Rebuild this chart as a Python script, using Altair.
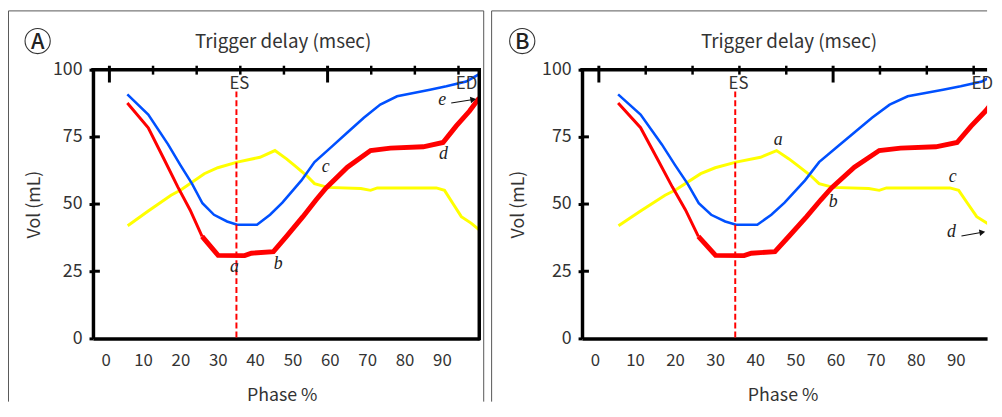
import altair as alt
import pandas as pd

FONT = "Noto Sans CJK KR"
SERIF = "Liberation Serif"
TXT = "#333333"

# ---- data ----
blue_phase = [5.8, 11.4, 16.7, 20.0, 23.1, 25.9, 29.0, 32.5, 35.2, 40.5, 44.0, 47.3,
              52.4, 55.9, 60.3, 64.7, 69.1, 73.5, 78.0, 82.4, 86.8, 91.2, 96.5, 100.3]
blue_vol = [90.8, 83.3, 72.2, 64.5, 57.6, 50.3, 46.0, 43.5, 42.3, 42.3, 46.0, 50.5,
            58.8, 65.6, 71.1, 76.6, 82.1, 87.0, 90.1, 91.3, 92.5, 93.8, 95.6, 98.6]

red_phase = [5.8, 11.4, 15.8, 19.3, 22.6, 25.8, 30.1, 37.2, 39.0, 44.9, 48.4, 52.8,
             56.3, 59.0, 64.7, 70.9, 76.2, 85.0, 90.3, 93.8, 97.4, 100.0]
red_vol = [87.6, 78.4, 66.2, 56.4, 47.8, 38.0, 30.9, 30.8, 31.7, 32.3, 38.0, 45.3,
           51.5, 56.0, 63.7, 69.9, 70.8, 71.3, 72.9, 79.0, 84.6, 89.5]
red_thin_until = 25.8

yellow_phase = [5.9, 11.4, 17.5, 20.2, 26.4, 30.0, 35.2, 41.3, 45.3, 48.4, 50.6, 53.7,
                55.9, 59.4, 68.3, 70.9, 72.7, 88.5, 90.7, 92.9, 95.2, 97.8, 100.0]
yellow_vol = [41.9, 47.4, 53.3, 55.3, 61.3, 63.5, 65.6, 67.4, 69.9, 66.8, 64.3, 60.7,
              57.6, 56.2, 55.8, 55.1, 56.0, 56.0, 55.1, 50.3, 45.3, 42.9, 40.4]

x_ticks = [0, 10, 20, 30, 40, 50, 60, 70, 80, 90]
y_ticks = [0, 25, 50, 75, 100]
y_inner_ticks = [25, 50, 75]

delay_ticks = [0, 100, 200, 300, 400, 500, 600, 700, 800]
delay_long = [0, 500]
delay_phase0 = 1.0       # phase at trigger delay 0
delay_phase_per_ms = 0.1168

es_phase = [35]
marker_labels = ["ES", "ED"]
marker_phase = [35.8, 96.6]

ann_A_letters = ["a", "b", "c", "d", "e"]
ann_A_phase = [34.5, 46.2, 58.9, 90.4, 90.1]
ann_A_vol = [24.6, 25.7, 61.8, 66.9, 86.8]
arrow_A = dict(tp=[92.5], tv=[87.6], hp=[98.4], hv=[88.9])

ann_B_letters = ["a", "b", "c", "d"]
ann_B_phase = [45.7, 59.4, 89.2, 88.9]
ann_B_vol = [72.1, 48.9, 58.1, 37.9]
arrow_B = dict(tp=[91.4], tv=[38.1], hp=[96.6], hv=[39.5])

H = 272


def panel(letter, W, xdom, letters, lph, lvol, arrow, right_border, fx_left,
          title_x, phase_title_x, vol_title_x, circle_x, frame_right):
    xs = alt.Scale(domain=xdom, nice=False, zero=False)
    ys = alt.Scale(domain=[0, 100], nice=False, zero=False)

    def X(f, axis=alt.Undefined):
        return alt.X(f, type="quantitative", scale=xs, axis=axis)

    def Y(f, axis=alt.Undefined):
        return alt.Y(f, type="quantitative", scale=ys, axis=axis)

    xaxis = alt.Axis(values=x_ticks, grid=False, ticks=False, tickSize=0,
                     domainColor="black", domainWidth=3.5, labelFont=FONT,
                     labelFontSize=17, labelColor=TXT, labelPadding=14,
                     labelFlush=False, labelOverlap=False,
                     title="Phase %", titleFont=FONT, titleFontSize=18,
                     titleFontWeight="normal", titleColor=TXT,
                     titleX=phase_title_x, titleY=58, titleAlign="center",
                     titleBaseline="middle")
    yaxis = alt.Axis(values=y_ticks, grid=False, ticks=True, tickSize=4,
                     tickWidth=3, tickColor="black", domainColor="black",
                     domainWidth=3.5, labelFont=FONT, labelFontSize=18,
                     labelColor=TXT, labelPadding=7, labelFlush=False,
                     labelOverlap=False, title="Vol (mL)", titleFont=FONT,
                     titleFontSize=18, titleFontWeight="normal", titleColor=TXT,
                     titleX=vol_title_x, titleY=H / 2, titleAngle=270,
                     titleAlign="center", titleBaseline="middle")

    blue = pd.DataFrame({"phase": blue_phase, "vol": blue_vol})
    red = pd.DataFrame({"phase": red_phase, "vol": red_vol})
    yellow = pd.DataFrame({"phase": yellow_phase, "vol": yellow_vol})

    l_yellow = alt.Chart(yellow).mark_line(color="#ffff00", strokeWidth=3, clip=True).encode(
        x=X("phase", xaxis), y=Y("vol", yaxis), order="phase:Q")
    l_blue = alt.Chart(blue).mark_line(color="#0050ff", strokeWidth=2.6, clip=True).encode(
        x=X("phase"), y=Y("vol"), order="phase:Q")
    l_red_thin = alt.Chart(red[red.phase <= red_thin_until]).mark_line(
        color="#ff0000", strokeWidth=3, clip=True).encode(x=X("phase"), y=Y("vol"), order="phase:Q")
    l_red_thick = alt.Chart(red[red.phase >= red_thin_until]).mark_line(
        color="#ff0000", strokeWidth=5, clip=True).encode(x=X("phase"), y=Y("vol"), order="phase:Q")

    es = alt.Chart(pd.DataFrame({"phase": es_phase})).mark_rule(
        color="#ff0000", strokeWidth=2, strokeDash=[6, 3]).encode(
        x=X("phase"), y=alt.value(22), y2=alt.value(H + 2))

    marks = alt.Chart(pd.DataFrame({"phase": marker_phase, "t": marker_labels})).mark_text(
        font=FONT, fontSize=17, color=TXT, baseline="middle", align="center").encode(
        x=X("phase"), y=alt.value(15), text="t:N")

    # top border and optional right border
    top = alt.Chart(pd.DataFrame({"k": [0]})).mark_rule(color="black", strokeWidth=3.5).encode(
        x=alt.value(-1.75), x2=alt.value(W + 1.75 if right_border else W), y=alt.value(0))
    layers = [l_yellow, l_blue, l_red_thin, l_red_thick, es, marks, top]
    if right_border:
        layers.append(alt.Chart(pd.DataFrame({"k": [0]})).mark_rule(
            color="black", strokeWidth=3.5).encode(
            x=alt.value(W), y=alt.value(-1.75), y2=alt.value(H + 1.75)))

    # trigger-delay ticks on top axis
    dt = pd.DataFrame({"ms": delay_ticks})
    dt["long"] = dt.ms.isin(delay_long)
    base_dt = alt.Chart(dt).transform_calculate(
        phase=f"{delay_phase0} + datum.ms * {delay_phase_per_ms}")
    layers.append(base_dt.transform_filter("!datum.long").mark_rule(
        color="black", strokeWidth=2.5).encode(x=X("phase:Q"), y=alt.value(-4), y2=alt.value(5)))
    layers.append(base_dt.transform_filter("datum.long").mark_rule(
        color="black", strokeWidth=3).encode(x=X("phase:Q"), y=alt.value(-4), y2=alt.value(13)))

    # inward y ticks
    layers.append(alt.Chart(pd.DataFrame({"v": y_inner_ticks})).mark_rule(
        color="black", strokeWidth=3).encode(y=Y("v"), x=alt.value(0), x2=alt.value(7)))

    # annotation letters
    layers.append(alt.Chart(pd.DataFrame({"phase": lph, "vol": lvol, "t": letters})).mark_text(
        font=SERIF, fontStyle="italic", fontSize=18, color="#222222",
        baseline="alphabetic", align="center").encode(x=X("phase"), y=Y("vol"), text="t:N"))

    # arrow
    ar = pd.DataFrame(arrow)
    layers.append(alt.Chart(ar).mark_rule(color="#111111", strokeWidth=1.2).encode(
        x=X("tp"), y=Y("tv"), x2="hp:Q", y2="hv:Q"))
    layers.append(alt.Chart(ar).mark_point(shape="triangle-right", filled=True,
                                           color="#111111", size=45, angle=350, opacity=1).encode(
        x=X("hp"), y=Y("hv")))

    # panel heading
    layers.append(alt.Chart(pd.DataFrame({"t": ["Trigger delay (msec)"]})).mark_text(
        font=FONT, fontSize=19, color=TXT, baseline="middle", align="center").encode(
        x=alt.value(title_x), y=alt.value(-28), text="t:N"))
    layers.append(alt.Chart(pd.DataFrame({"t": [letter]})).mark_point(
        shape="circle", size=650, filled=False, color="#333333", strokeWidth=1.1, opacity=1).encode(
        x=alt.value(circle_x), y=alt.value(-29)))
    layers.append(alt.Chart(pd.DataFrame({"t": [letter]})).mark_text(
        font=FONT, fontSize=22, fontWeight=500, color="#222222", baseline="middle",
        align="center").encode(x=alt.value(circle_x), y=alt.value(-28), text="t:N"))

    # outer frame (grey)
    fr = alt.Chart(pd.DataFrame({"k": [0]}))
    layers.append(fr.mark_rule(color="#555555", strokeWidth=1).encode(
        x=alt.value(fx_left), y=alt.value(-59.5), y2=alt.value(336)))
    layers.append(fr.mark_rule(color="#555555", strokeWidth=1).encode(
        x=alt.value(fx_left), x2=alt.value(frame_right), y=alt.value(-59.5)))
    if right_border:
        layers.append(fr.mark_rule(color="#555555", strokeWidth=1).encode(
            x=alt.value(frame_right), y=alt.value(-59.5), y2=alt.value(336)))

    return alt.layer(*layers).properties(width=W, height=H)


A = panel("A", 391, [-3.4, 100.0], ann_A_letters, ann_A_phase, ann_A_vol, arrow_A,
          True, -85.5, 192.5, 191, -59, -56, 395.5)
B = panel("B", 410, [-3.2, -3.2 + 410 / 4.06], ann_B_letters, ann_B_phase, ann_B_vol, arrow_B,
          False, -91.5, 209.5, 203, -64, -60.5, 410)

chart = alt.hconcat(A, B, spacing=7).properties(padding=0, background="white").configure_view(
    stroke=None)

chart.save("out.html", embed_options={"renderer": "svg", "actions": False})
